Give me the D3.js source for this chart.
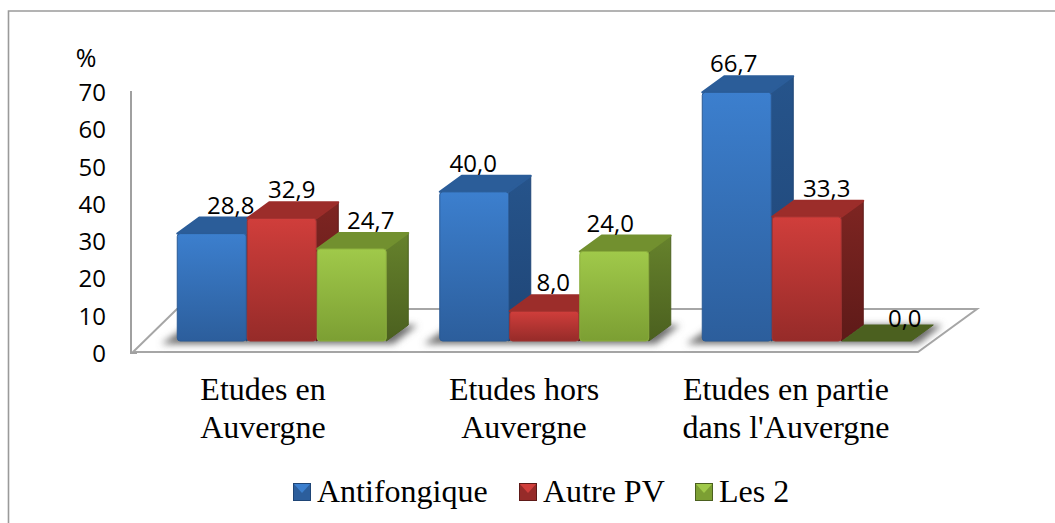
<!DOCTYPE html>
<html><head><meta charset="utf-8">
<script src="https://cdn.jsdelivr.net/npm/d3@7/dist/d3.min.js"></script>
<style>html,body{margin:0;padding:0;background:#fff;overflow:hidden}svg{display:block}</style>
</head><body><svg id="c" width="1055" height="523"></svg>
<script>
const categories = [["Etudes en","Auvergne"],["Etudes hors","Auvergne"],["Etudes en partie","dans l'Auvergne"]];
const seriesNames = ["Antifongique","Autre PV","Les 2"];
const antifongique = [28.8,40.0,66.7];
const autrePV = [32.9,8.0,33.3];
const les2 = [24.7,24.0,0.0];
const yTicks = [0,10,20,30,40,50,60,70];
const allSeries = [antifongique,autrePV,les2];

const labelNudge = [[[19,0],[10,0],[19,0]],[[-1,0],[9,0],[-4,0]],[[-3,0],[20,0],[28,6]]];
const palette = [
 {a:"#3c7fce",b:"#2c5e9c",top:"#2b5d99",s1:"#26548b",s2:"#1f4576",edge:"#2a5a94"},
 {a:"#d03e3b",b:"#962b29",top:"#9c2d2a",s1:"#7e2522",s2:"#5e1a18",edge:"#a03230"},
 {a:"#a0c94a",b:"#7c9f33",top:"#72902f",s1:"#66822c",s2:"#4b601f",edge:"#8aad3c"}];
const dx=22, dy=16, frontDrop=11;

const svg=d3.select("#c");
const defs=svg.append("defs");
palette.forEach((p,i)=>{
  const g=defs.append("linearGradient").attr("id","f"+i).attr("x1",0).attr("y1",0).attr("x2",0).attr("y2",1);
  g.append("stop").attr("offset",0).attr("stop-color",p.a);
  g.append("stop").attr("offset",1).attr("stop-color",p.b);
  const s=defs.append("linearGradient").attr("id","s"+i).attr("x1",0).attr("y1",0).attr("x2",0).attr("y2",1);
  s.append("stop").attr("offset",0).attr("stop-color",p.s1);
  s.append("stop").attr("offset",1).attr("stop-color",p.s2);
});
defs.append("filter").attr("id","blur").attr("x","-20%").attr("y","-100%").attr("width","140%").attr("height","300%")
  .append("feGaussianBlur").attr("stdDeviation",3.5);

// frame
svg.append("path").attr("d","M8.5,523V11H1055").attr("fill","none").attr("stroke","#9a9a9a").attr("stroke-width",1.6);

const y=d3.scaleLinear().domain([0,70]).range([352,91]);
const x0=d3.scaleBand().domain(d3.range(categories.length)).range([151,938.5]);
const x1=d3.scaleBand().domain(d3.range(seriesNames.length)).range([0,210]);
const bw=x1.bandwidth()-1;
const groupLeft=i=>x0(i)+(x0.bandwidth()-210)/2;

// floor
const floorY=y(0), floorL=133, floorR=918;
svg.append("path")
  .attr("d",`M${floorL},${floorY}H${floorR}L977,309H${floorL+44}Z`)
  .attr("fill","#fff").attr("stroke","#a6a6a6").attr("stroke-width",2);
// y axis wall line
svg.append("path").attr("d",`M131,${y(70)}V${floorY+1}H${floorL+4}`).attr("fill","none").attr("stroke","#a0a0a0").attr("stroke-width",2);

// floor shadows
categories.forEach((c,i)=>{
  const l=groupLeft(i), b=floorY-frontDrop;
  svg.append("path").attr("filter","url(#blur)").attr("fill","#6e6e6e")
   .attr("d",`M${l-16},${b+3}H${l+216}L${l+240},${b-16}H${l+12}Z`);
});

// tick labels
const sans="'Open Sans',sans-serif", serif="'Liberation Serif',serif";
svg.append("g").selectAll("text").data(yTicks).join("text")
  .attr("x",106).attr("y",d=>y(d)+10).attr("text-anchor","end")
  .attr("font-family",sans).attr("font-size",24).attr("fill","#000").text(d=>d);
svg.append("text").attr("x",86).attr("y",67).attr("text-anchor","middle")
  .attr("font-family",sans).attr("font-size",25).attr("fill","#000").text("%");

// bars
categories.forEach((c,i)=>{
  const g=svg.append("g");
  allSeries.forEach((vals,si)=>{
    const v=vals[i], p=palette[si];
    const l=groupLeft(i)+x1(si), r=l+bw, b=y(0)-frontDrop, t=y(v)-frontDrop;
    const bar=g.append("g");
    if(v===0){
      bar.append("path").attr("d",`M${l},${b}H${r}L${r+dx},${b-dy}H${l+dx}Z`).attr("fill",p.s2).attr("stroke",p.s2).attr("stroke-linejoin","round");
      return;
    }
    bar.append("path").attr("d",`M${r},${t}L${r+dx},${t-dy}V${b-dy}L${r},${b}Z`).attr("fill",`url(#s${si})`).attr("stroke",p.s2).attr("stroke-width",1).attr("stroke-linejoin","round");
    bar.append("path").attr("d",`M${l},${t}L${l+dx},${t-dy}H${r+dx}L${r},${t}Z`).attr("fill",p.top).attr("stroke",p.top).attr("stroke-width",2).attr("stroke-linejoin","round");
    bar.append("rect").attr("x",l).attr("y",t).attr("width",bw).attr("height",b-t).attr("rx",3)
      .attr("fill",`url(#f${si})`).attr("stroke",p.edge).attr("stroke-width",1);
  });
  allSeries.forEach((vals,si)=>{
    const v=vals[i], l=groupLeft(i)+x1(si), n=labelNudge[i][si];
    g.append("text").attr("x",l+bw/2+n[0]).attr("y",y(v)-frontDrop-dy-4+n[1])
      .attr("text-anchor","middle").attr("font-family",sans).attr("font-size",24).attr("fill","#000")
      .text(v.toFixed(1).replace(".",","));
  });
});

// category labels
categories.forEach((c,i)=>{
  const cx=[263,524,786][i];
  svg.append("text").attr("font-family",serif).attr("font-size",32).attr("text-anchor","middle").attr("fill","#000")
    .selectAll("tspan").data(c).join("tspan").attr("x",cx).attr("y",(d,k)=>400+k*38).text(d=>d);
});

// legend
const legX=[293,519,695];
seriesNames.forEach((n,i)=>{
  const p=palette[i], s=18, lx=legX[i], ly=483;
  const g=svg.append("g");
  g.append("rect").attr("x",lx).attr("y",ly).attr("width",s).attr("height",s).attr("fill",p.b);
  g.append("path").attr("d",`M${lx},${ly}H${lx+s}L${lx+s/2},${ly+s*0.55}Z`).attr("fill",p.a);
  g.append("rect").attr("x",lx+.5).attr("y",ly+.5).attr("width",s-1).attr("height",s-1).attr("fill","none").attr("stroke",p.s2).attr("stroke-width",1);
  g.append("text").attr("x",lx+24).attr("y",501.5).attr("font-family",serif).attr("font-size",32).attr("fill","#000").text(n);
});
</script></body></html>
